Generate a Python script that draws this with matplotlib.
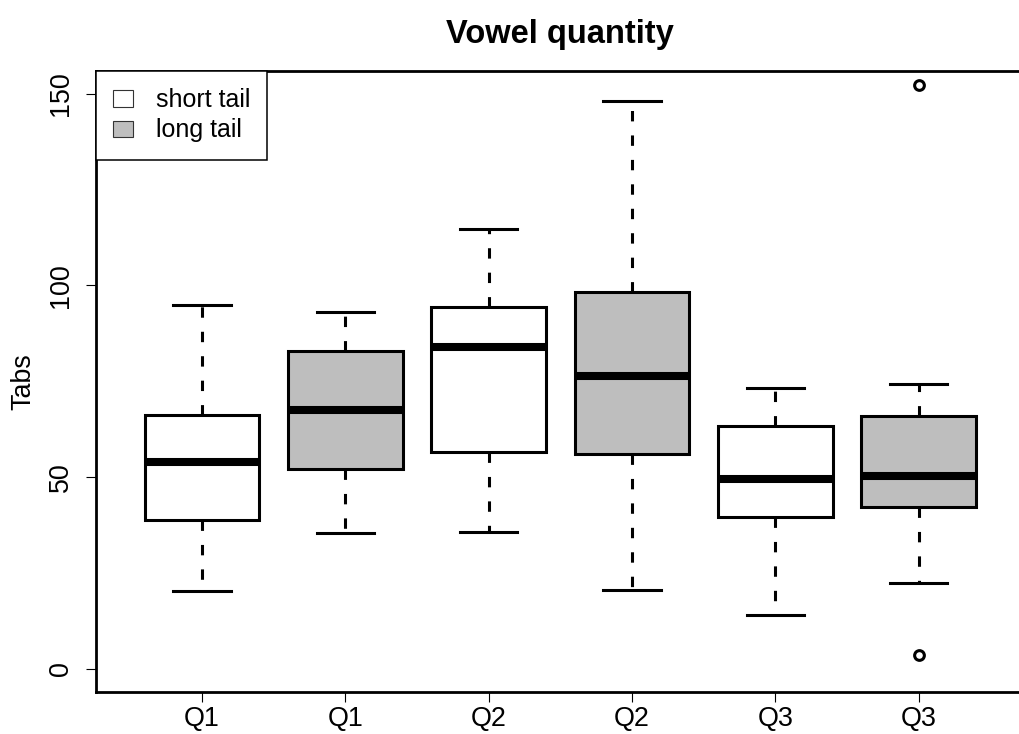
import matplotlib

matplotlib.use("Agg")
import matplotlib.pyplot as plt
from matplotlib.patches import Patch

plt.rcParams["font.family"] = ["Liberation Sans", "DejaVu Sans"]

# values (y axis "Tabs")
labels = ["Q1", "Q1", "Q2", "Q2", "Q3", "Q3"]
fills = ["white", "#BEBEBE", "white", "#BEBEBE", "white", "#BEBEBE"]
whisker_lo = [20.2, 35.5, 35.6, 20.6, 13.9, 22.4]
q1 = [38.9, 52.2, 56.5, 55.9, 39.6, 42.3]
median = [53.9, 67.6, 83.9, 76.3, 49.6, 50.2]
q3 = [66.2, 83.0, 94.3, 98.3, 63.2, 65.8]
whisker_hi = [95.0, 93.0, 114.7, 148.0, 73.3, 74.4]
outliers = [[], [], [], [], [], [152.4, 3.7]]

legend_labels = ["short tail", "long tail"]
legend_fills = ["white", "#BEBEBE"]
y_ticks = [0, 50, 100, 150]

W, H = 1020, 734
fig = plt.figure(figsize=(W / 100, H / 100), dpi=100)
left, right, top, bottom = 96, 1024.6, 70.7, 691.7
ax = fig.add_axes([left / W, (H - bottom) / H, (right - left) / W, (bottom - top) / H])

stats = []
for i in range(len(labels)):
    stats.append(
        {
            "med": median[i],
            "q1": q1[i],
            "q3": q3[i],
            "whislo": whisker_lo[i],
            "whishi": whisker_hi[i],
            "fliers": outliers[i],
            "label": labels[i],
        }
    )

positions = list(range(1, len(labels) + 1))
lw = 2.2
bp = ax.bxp(
    stats,
    positions=positions,
    widths=0.8,
    patch_artist=True,
    boxprops=dict(linewidth=lw, edgecolor="black"),
    medianprops=dict(color="black", linewidth=5.8, solid_capstyle="butt"),
    whiskerprops=dict(color="black", linewidth=lw, linestyle=(0, (3.4, 4.6))),
    capprops=dict(color="black", linewidth=lw),
    flierprops=dict(marker="o", markerfacecolor="white", markeredgecolor="black",
                    markersize=7, markeredgewidth=2.2),
)
for box, fc in zip(bp["boxes"], fills):
    box.set_facecolor(fc)

ax.set_xlim(0.26, 6.74)
ax.set_ylim(-6, 156)
ax.set_xticks(positions)
ax.set_xticklabels(labels)
ax.set_yticks(y_ticks)
ax.set_yticklabels([str(t) for t in y_ticks])

ax.tick_params(axis="both", direction="out", length=7, width=0.8, colors="black",
               labelsize=19.4)
ax.tick_params(axis="y", labelrotation=90, pad=9)
ax.tick_params(axis="x", pad=3)
for lab in ax.get_yticklabels():
    lab.set_va("center")

for side in ["left", "bottom", "top", "right"]:
    ax.spines[side].set_linewidth(2.0)

ax.set_title("Vowel quantity", fontsize=23.5, fontweight="bold", pad=20)
ax.text((23 - left) / (right - left), 0.5, "Tabs", rotation=90, ha="center", va="center",
        fontsize=19.4, transform=ax.transAxes)

handles = [Patch(facecolor=c, edgecolor="#333333", linewidth=0.8) for c in legend_fills]
leg = ax.legend(handles, legend_labels, loc="upper left", borderaxespad=0, fontsize=18,
                frameon=True, fancybox=False, framealpha=1, edgecolor="black",
                handlelength=0.78, handleheight=0.62, handletextpad=0.9,
                borderpad=0.7, labelspacing=0.25)
leg.get_frame().set_linewidth(1.1)

fig.savefig("out.png", dpi=100)
